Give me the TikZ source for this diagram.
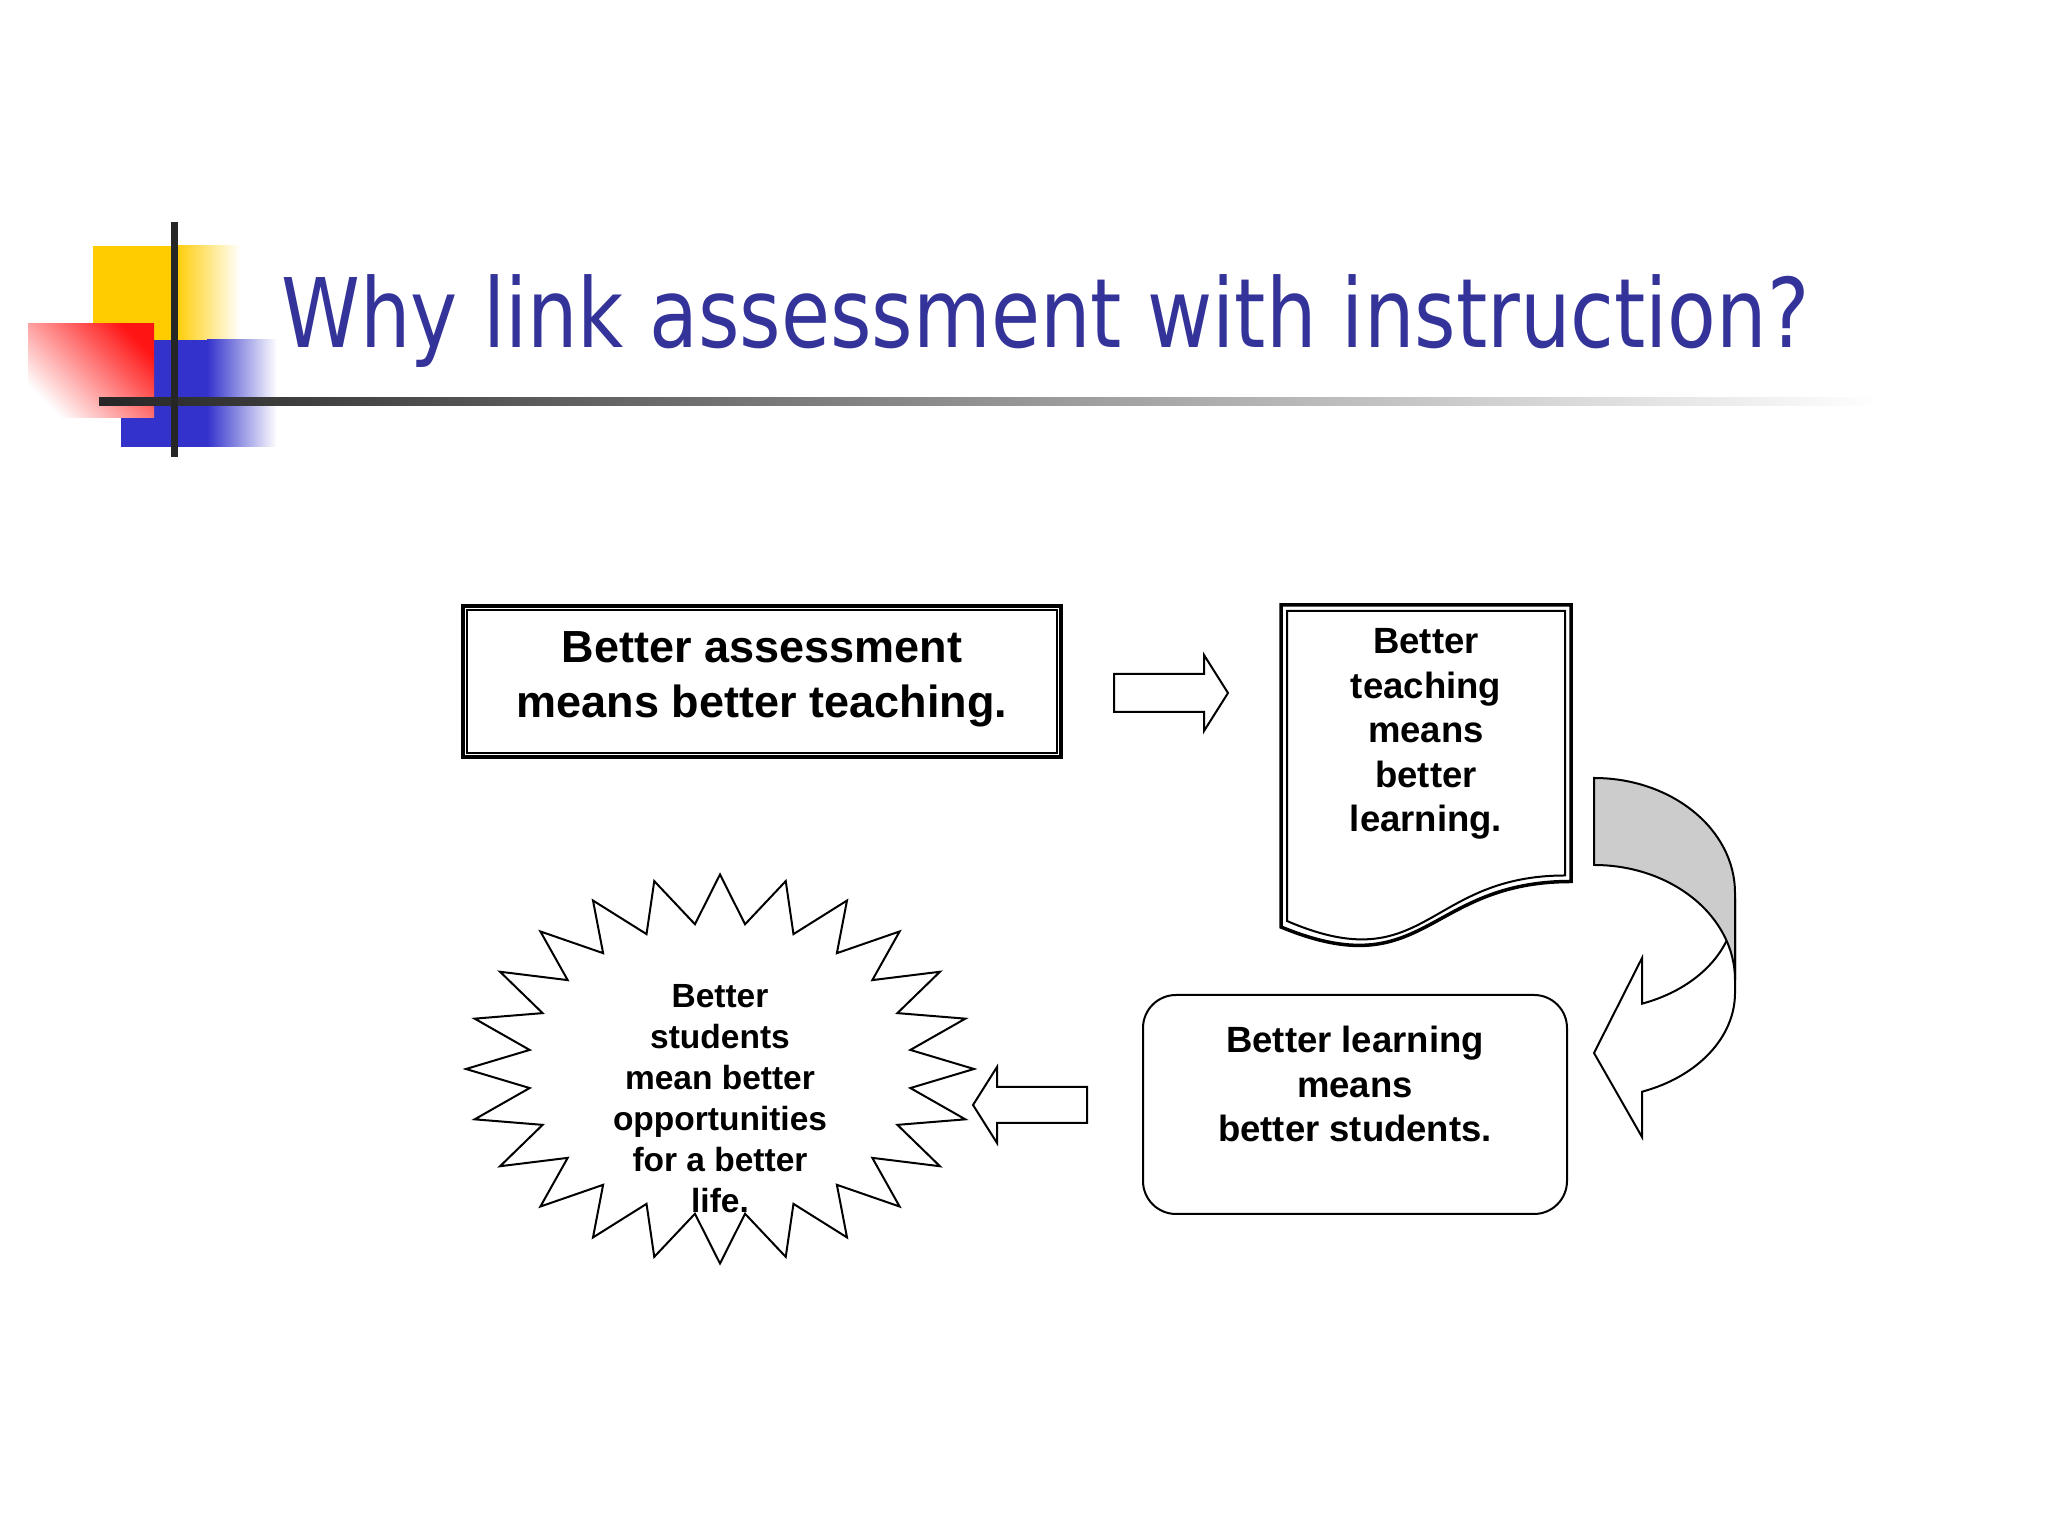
\documentclass[tikz,border=0pt]{standalone}
\usepackage{fontspec}
\setmainfont{Liberation Sans}
\newfontfamily\titlefont{DejaVu Sans}
\usetikzlibrary{calc}
\definecolor{titleblue}{RGB}{51,51,153}
\definecolor{logoyellow}{RGB}{255,204,0}
\definecolor{logoblue}{RGB}{51,51,204}
\definecolor{logored}{RGB}{255,20,20}
\definecolor{bandgray}{RGB}{204,204,204}
\begin{document}
\begin{tikzpicture}[x=1pt,y=1pt,line join=miter,
  txt/.style={font=\bfseries, align=center, inner sep=0pt},
  bigtxt/.style={txt, font=\bfseries\fontsize{45}{55}\selectfont},
  midtxt/.style={txt, font=\bfseries\fontsize{36.5}{44.5}\selectfont},
  smalltxt/.style={txt, font=\bfseries\fontsize{33.5}{41}\selectfont},
  outline/.style={draw=black, line width=2pt},
  thickline/.style={draw=black, line width=3.5pt}]
\useasboundingbox (0,0) rectangle (2048,1536);
\fill[white] (0,0) rectangle (2048,1536);

% ---- logo ----
\fill[logoyellow] (93,1196) rectangle (176,1290);
\shade[left color=logoyellow, right color=white] (175,1196) rectangle (240,1290);
\fill[logoblue] (121,1089) rectangle (208,1196);
\shade[left color=logoblue, right color=white] (207,1089) rectangle (277,1196);
\shade[shading=axis, top color=logored, bottom color=white, shading angle=-45] (28,1118) rectangle (154,1212);
\shade[left color=black!85, middle color=black!45, right color=white] (99,1130) rectangle (1880,1138);
\fill[black!85] (170.5,1079) rectangle (177.5,1314);

% ---- title ----
\node[anchor=base west, inner sep=0pt, text=titleblue] (title) at (281,1188)
  {\scalebox{0.8305}[1]{\fontsize{96}{110}\titlefont Why link assessment with instruction?}};

% ---- box 1 ----
\node[thickline, minimum width=598pt, minimum height=151pt, inner sep=0pt] (b1) at (762,854.5) {};
\draw[line width=2pt] ($(b1.south west)+(6,6)$) rectangle ($(b1.north east)-(6,6)$);
\node[bigtxt] (b1t) at (762,857) {Better assessment\\means better teaching.};

% ---- right block arrow ----
\draw[outline] (1114,862) -- (1204,862) -- (1204,881) -- (1228,843) -- (1204,805) -- (1204,824) -- (1114,824) -- cycle;

% ---- document shape ----
\draw[line width=3.5pt] (1281,931) -- (1571,931) -- (1571,654.5)
  .. controls (1426,654.5) and (1426,549.1) .. (1281,609) -- cycle;
\draw[line width=2pt] (1287,925) -- (1565,925) -- (1565,660.5)
  .. controls (1426,660.5) and (1426,555.1) .. (1287,615) -- cycle;
\node[midtxt] (doc) at (1426,802) {Better\\teaching\\means\\better\\learning.};

% ---- curved arrow ----
\draw[outline, fill=white] (1735,631) -- (1735,543)
  arc[start angle=0, end angle=-70.1, x radius=141, y radius=105]
  -- (1642,399) -- (1594,483) -- (1642,578) -- (1642,532.3)
  arc[start angle=-70.1, end angle=0, x radius=141, y radius=105] -- cycle;
\draw[outline, fill=bandgray] (1594,758)
  arc[start angle=90, end angle=0, x radius=141, y radius=115]
  -- (1735,556)
  arc[start angle=0, end angle=90, x radius=141, y radius=115] -- cycle;

% ---- rounded box ----
\node[outline, rounded corners=33pt, minimum width=424pt, minimum height=219pt, inner sep=0pt] (rb) at (1355,431.5) {};
\node[midtxt] (rbt) at (1355,452) {Better learning\\means\\better students.};

% ---- left block arrow ----
\draw[outline] (1087,449) -- (997,449) -- (997,469) -- (973,431) -- (997,393) -- (997,413) -- (1087,413) -- cycle;

% ---- starburst ----
\fill[white] plot[samples at={0,...,47}] ({720+(mod(\x,2)==0 ? 254 : 192)*cos(\x*7.5)}, {467+(mod(\x,2)==0 ? 194.5 : 146)*sin(\x*7.5)}) -- cycle;
\node[smalltxt] (star) at (720,437) {Better\\students\\mean better\\opportunities\\for a better\\life.};
\draw[outline] plot[samples at={0,...,47}] ({720+(mod(\x,2)==0 ? 254 : 192)*cos(\x*7.5)}, {467+(mod(\x,2)==0 ? 194.5 : 146)*sin(\x*7.5)}) -- cycle;
\end{tikzpicture}
\end{document}
